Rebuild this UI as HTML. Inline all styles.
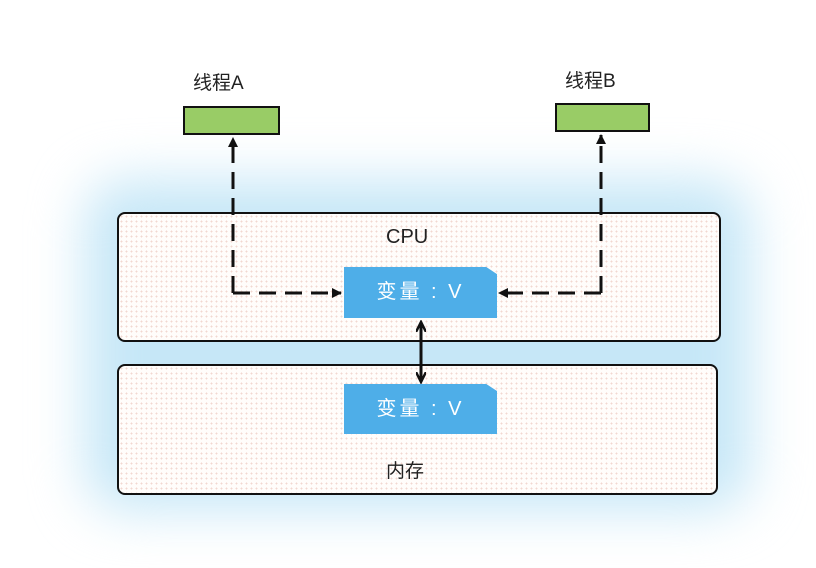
<!DOCTYPE html>
<html><head><meta charset="utf-8"><style>
body{margin:0;width:816px;height:568px;background:#fff;position:relative;overflow:hidden;font-family:"Liberation Sans","Noto Sans CJK SC",sans-serif}
.glow{position:absolute;left:85px;top:180px;width:666px;height:330px;background:#c6e7f7;filter:blur(26px);border-radius:40px}
.box{position:absolute;border:2px solid #111;border-radius:8px;background-color:#fffdfb;background-image:radial-gradient(#f2d8d0 0.8px,transparent 1px);background-size:5px 5px}
.var{position:absolute;background:#4eaee8;color:#fff;font-size:20px;text-align:center;line-height:50px;letter-spacing:3px;clip-path:polygon(0 0,93% 0,100% 14%,100% 100%,0 100%)}
.green{position:absolute;background:#99cc66;border:2px solid #111}
.lbl{position:absolute;font-size:19px;color:#222}
</style></head><body>
<div class="glow"></div>
<div class="box" style="left:117px;top:212px;width:600px;height:126px"></div>
<div class="box" style="left:117px;top:364px;width:597px;height:127px"></div>
<div class="lbl" style="left:386px;top:226px;font-size:20px">CPU</div>
<div class="lbl" style="left:386px;top:456px">内存</div>
<div class="var" style="left:344px;top:267px;width:153px;height:51px">变量 : V</div>
<div class="var" style="left:344px;top:384px;width:153px;height:50px">变量 : V</div>
<div class="green" style="left:183px;top:106px;width:93px;height:25px"></div>
<div class="green" style="left:555px;top:103px;width:91px;height:25px"></div>
<div class="lbl" style="left:193px;top:68px">线程A</div>
<div class="lbl" style="left:565px;top:66px">线程B</div>
<svg style="position:absolute;left:0;top:0" width="816" height="568">
<defs><marker id="a" markerWidth="10" markerHeight="10" refX="9" refY="5" orient="auto" markerUnits="userSpaceOnUse"><path d="M0,0 L10,5 L0,10 z" fill="#111"/></marker>
<marker id="b" markerWidth="12" markerHeight="10" refX="10" refY="5" orient="auto" markerUnits="userSpaceOnUse"><path d="M0,0 L10,5 L0,10" fill="none" stroke="#111" stroke-width="2.5"/></marker></defs>
<g stroke="#111" stroke-width="3" fill="none" stroke-dasharray="17,9">
<path d="M233,293 L233,138" marker-end="url(#a)"/>
<path d="M233,293 L341,293" marker-end="url(#a)"/>
<path d="M601,293 L601,135" marker-end="url(#a)"/>
<path d="M601,293 L499,293" marker-end="url(#a)"/>
</g>
<path d="M421,350 L421,322" stroke="#111" stroke-width="3" marker-end="url(#b)"/>
<path d="M421,350 L421,382" stroke="#111" stroke-width="3" marker-end="url(#b)"/>
</svg>
</body></html>
